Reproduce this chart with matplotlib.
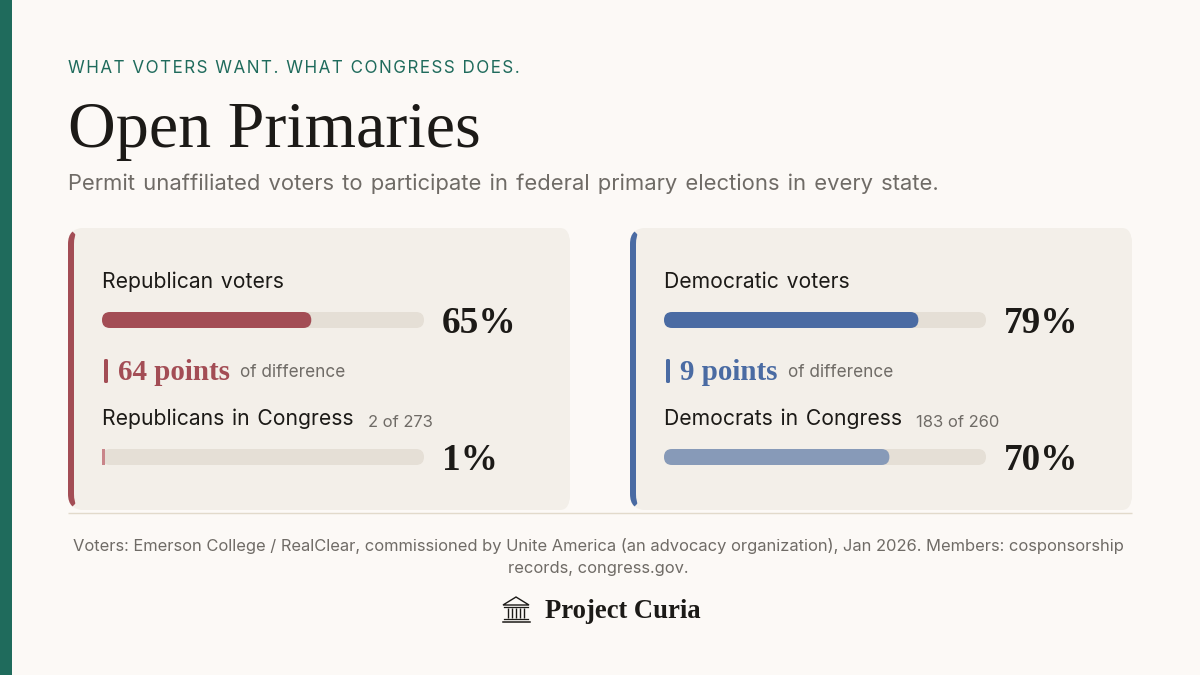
import matplotlib
matplotlib.use("Agg")
import matplotlib.pyplot as plt
from matplotlib.patches import FancyBboxPatch, Polygon, Rectangle

# survey and cosponsorship numbers
voter_labels = ["Republican voters", "Democratic voters"]
member_labels = ["Republicans in Congress", "Democrats in Congress"]
member_counts = ["2 of 273", "183 of 260"]
voter_pct = [65, 79]
member_pct = [1, 70]
gap_points = [64, 9]

eyebrow = "WHAT VOTERS WANT. WHAT CONGRESS DOES."
title = "Open Primaries"
subtitle = "Permit unaffiliated voters to participate in federal primary elections in every state."
source_lines = ["Voters: Emerson College / RealClear, commissioned by Unite America (an advocacy organization), Jan 2026. Members: cosponsorship",
                "records, congress.gov."]
brand = "Project Curia"

BG = "#fcf9f6"
CARD = "#f3efe9"
TRACK = "#e5dfd6"
GREEN = "#1f6b5c"
INK = "#1c1a17"
GREY = "#6f6b66"
RED = "#a34d55"
RED_LIGHT = "#c9858a"
BLUE = "#4a6ba3"
BLUE_LIGHT = "#879ab8"

SANS = ["Inter", "DejaVu Sans"]
SERIF = ["Liberation Serif", "DejaVu Serif"]
HAIR = "\u200a"

W, H = 1200, 675
fig = plt.figure(figsize=(12, 6.75), dpi=100, facecolor=BG)
ax = fig.add_axes([0, 0, 1, 1])
ax.set_xlim(0, W)
ax.set_ylim(H, 0)
ax.axis("off")


def px(size):
    return size * 0.72


def wide_words(s):
    return s.replace(" ", " " + HAIR)


def tracked(s):
    return HAIR.join(s)


def put(x, y, s, size, color=INK, family=SANS, weight="normal", ha="left"):
    return ax.text(x, y, s, fontsize=px(size), color=color, family=family,
                   weight=weight, ha=ha, va="baseline", zorder=6)


def right_edge(t):
    fig.canvas.draw()
    return t.get_window_extent().transformed(ax.transData.inverted()).x1


def round_box(x, y, w, h, rx, ry, color, zorder=2):
    # mutation_aspect makes the corners elliptical on the pixel axes
    p = FancyBboxPatch((x, y), w, h, boxstyle=f"round,pad=0,rounding_size={rx}",
                       mutation_aspect=ry / rx, fc=color, ec="none", zorder=zorder)
    ax.add_patch(p)
    return p


def track_bar(x, y, value, color, w=322, h=16):
    # one small axes per bar so the percent scale does the sizing
    b = fig.add_axes([x / W, 1 - (y + h) / H, w / W, h / H])
    b.set_xlim(0, 100)
    b.set_ylim(0, h)
    b.axis("off")
    asp = w / 100
    rs = (h / 2) / asp
    b.add_patch(FancyBboxPatch((0, 0), 100, h, boxstyle=f"round,pad=0,rounding_size={rs}",
                               mutation_aspect=asp, fc=TRACK, ec="none"))
    if value < 3:
        b.barh(h / 2, value, height=h, left=0, color=color)
    else:
        b.add_patch(FancyBboxPatch((0, 0), value, h, boxstyle=f"round,pad=0,rounding_size={rs}",
                                   mutation_aspect=asp, fc=color, ec="none"))


def card(x0, i, accent, accent_light):
    y0, cw, ch = 228, 502, 282
    y1 = y0 + ch
    round_box(x0, y0, cw, ch, 16, 16, CARD)
    # left border that thins out along the corners
    edge = round_box(x0, y0, cw, ch, 16, 16, accent, zorder=3)
    cut = Polygon([(x0 - 8, y0 - 9), (x0 + 9, y0 + 8), (x0 + 9, y1 - 8), (x0 - 8, y1 + 9)],
                  closed=True, transform=ax.transData)
    edge.set_clip_path(cut)
    round_box(x0 + 6, y0, cw - 6, ch, 10, 16, CARD, zorder=4)

    lx = x0 + 34
    put(lx, 288, wide_words(voter_labels[i]), 21.1)
    track_bar(lx, 312, voter_pct[i], accent)
    put(lx + 340, 333, f"{voter_pct[i]}%", 37.3, family=SERIF, weight="bold")

    ax.add_patch(FancyBboxPatch((lx + 2, 359), 4, 24, boxstyle="round,pad=0,rounding_size=1.5",
                                fc=accent, ec="none", zorder=5))
    t = put(lx + 16, 380, f"{gap_points[i]} points", 29, color=accent, family=SERIF, weight="bold")
    put(right_edge(t) + 10, 377, "of difference", 17.2, color=GREY)

    t = put(lx, 425, wide_words(member_labels[i]), 21.1)
    put(right_edge(t) + 14, 427, member_counts[i], 16.6, color=GREY)
    track_bar(lx, 449, member_pct[i], accent_light)
    put(lx + 340, 470, f"{member_pct[i]}%", 37.3, family=SERIF, weight="bold")


def temple(cx, y, color):
    # small columned building next to the wordmark
    ax.fill([cx - 13, cx, cx + 13], [y + 8, y, y + 8], fc="none", ec=color, lw=1.0, closed=True, zorder=6)
    ax.plot([cx - 12, cx + 12], [y + 10, y + 10], color=color, lw=0.9, zorder=6)
    for dx in (-8, -4, 0, 4, 8):
        ax.plot([cx + dx, cx + dx], [y + 11, y + 21], color=color, lw=1.0, zorder=6, solid_capstyle="butt")
    ax.plot([cx - 12, cx + 12], [y + 22, y + 22], color=color, lw=0.9, zorder=6)
    ax.plot([cx - 13.5, cx + 13.5], [y + 24.5, y + 24.5], color=color, lw=1.1, zorder=6)


ax.add_patch(Rectangle((0, 0), 12, H, fc=GREEN, ec="none"))

put(68, 73, tracked(eyebrow), 17, color=GREEN)
put(68, 147, title, 66, family=SERIF)
put(68, 190, wide_words(subtitle), 22, color=GREY)

card(68, 0, RED, RED_LIGHT)
card(630, 1, BLUE, BLUE_LIGHT)

ax.plot([68, 1132], [513, 513], color="#e2dacb", lw=1, zorder=1, solid_capstyle="butt")

put(598.5, 551, source_lines[0], 16.5, color=GREY, ha="center")
put(598.5, 573, source_lines[1], 16.5, color=GREY, ha="center")

temple(516, 597, INK)
put(545, 618, brand, 26.6, family=SERIF, weight="bold")

fig.savefig("out.png", dpi=100, facecolor=BG)
